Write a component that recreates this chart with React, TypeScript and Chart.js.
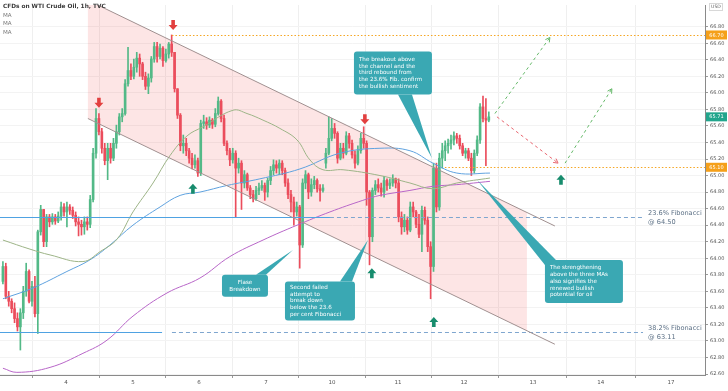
import React, { useEffect, useRef } from "react";
import { Chart, registerables } from "chart.js";
Chart.register(...registerables);

// ---------- DATA ----------
const dayLabels = ["4", "5", "6", "7", "10", "11", "12", "13", "14", "17"];
const dayTickBars = [21.7, 44.7, 67.4, 90.4, 113.1, 135.8, 158.5, 182.2, 205.5, 229.6];
const priceTicks = [62.6, 62.8, 63.0, 63.2, 63.4, 63.6, 63.8, 64.0, 64.2, 64.4, 64.6, 64.8, 65.0, 65.2, 65.4, 65.6, 65.8, 66.0, 66.2, 66.4, 66.6, 66.8];

const opens = [
  63.72, 63.90, 63.54, 63.48, 63.39, 63.27, 63.17, 63.34, 63.60, 63.84,
  63.48, 63.66, 63.33, 64.32, 64.59, 64.20, 64.50, 64.44, 64.50, 64.45,
  64.51, 64.62, 64.56, 64.62, 64.58, 64.52, 64.44, 64.41, 64.38, 64.44,
  64.41, 64.71, 65.27, 65.69, 65.53, 65.33, 65.18, 65.33, 65.21, 65.39,
  65.53, 65.71, 65.75, 66.11, 66.27, 66.20, 66.31, 66.42, 66.35, 66.20,
  66.08, 66.18, 66.41, 66.56, 66.44, 66.54, 66.39, 66.47, 66.59, 66.49,
  66.05, 65.73, 65.36, 65.39, 65.30, 65.21, 65.13, 65.18, 65.03, 65.63,
  65.65, 65.61, 65.67, 65.62, 65.75, 65.90, 65.69, 65.39, 65.30, 65.19,
  65.27, 65.09, 65.15, 64.91, 65.01, 64.85, 64.77, 64.72, 64.82, 64.85,
  64.88, 64.80, 64.94, 65.06, 65.13, 65.09, 65.15, 65.06, 64.91, 64.77,
  64.68, 64.56, 64.62, 64.16, 64.91, 65.01, 64.80, 64.89, 64.94, 64.84,
  64.82, 65.15, 65.27, 65.45, 65.57, 65.51, 65.21, 65.33, 65.27, 65.48,
  65.39, 65.25, 65.15, 65.30, 65.45, 65.39, 64.80, 64.26, 64.82, 64.89,
  64.85, 64.80, 64.94, 64.88, 64.91, 64.96, 64.91, 64.50, 64.38, 64.46,
  64.34, 64.62, 64.56, 64.41, 64.29, 64.58, 64.46, 64.14, 63.90, 65.09,
  64.62, 65.21, 65.30, 65.36, 65.39, 65.43, 65.48, 65.45, 65.36, 65.27,
  65.30, 65.21, 65.06, 65.27, 65.43, 65.83, 65.69, 65.67,
];
const highs = [
  63.96, 63.94, 63.60, 63.51, 63.46, 63.34, 63.39, 63.66, 63.94, 63.86,
  63.72, 63.78, 64.34, 64.64, 64.59, 64.53, 64.53, 64.54, 64.53, 64.56,
  64.68, 64.66, 64.68, 64.65, 64.62, 64.56, 64.50, 64.46, 64.50, 64.50,
  64.76, 65.33, 65.81, 65.75, 65.57, 65.39, 65.39, 65.39, 65.45, 65.61,
  65.75, 65.81, 66.16, 66.55, 66.35, 66.41, 66.49, 66.47, 66.37, 66.25,
  66.23, 66.44, 66.61, 66.61, 66.59, 66.56, 66.53, 66.61, 66.70, 66.49,
  66.05, 65.75, 65.49, 65.45, 65.33, 65.27, 65.25, 65.21, 65.67, 65.73,
  65.70, 65.71, 65.69, 65.81, 65.95, 65.92, 65.73, 65.42, 65.33, 65.33,
  65.30, 65.21, 65.18, 65.06, 65.03, 64.88, 64.82, 64.87, 64.91, 64.94,
  64.91, 64.97, 65.11, 65.19, 65.18, 65.19, 65.18, 65.09, 64.96, 64.82,
  64.74, 64.68, 64.64, 64.96, 65.06, 65.03, 64.96, 64.99, 64.96, 64.89,
  64.89, 65.33, 65.71, 65.69, 65.63, 65.53, 65.39, 65.39, 65.53, 65.51,
  65.43, 65.30, 65.36, 65.51, 65.59, 65.42, 64.82, 64.85, 64.94, 64.96,
  64.91, 64.99, 64.96, 64.96, 65.01, 64.97, 64.96, 64.56, 64.53, 64.50,
  64.68, 64.68, 64.58, 64.53, 64.63, 64.62, 64.50, 64.20, 65.15, 65.15,
  65.27, 65.39, 65.42, 65.44, 65.49, 65.53, 65.51, 65.49, 65.39, 65.33,
  65.33, 65.27, 65.31, 65.48, 65.87, 65.96, 65.93, 65.77,
];
const lows = [
  63.69, 63.51, 63.42, 63.34, 63.22, 63.12, 62.89, 63.27, 63.54, 63.46,
  63.42, 63.29, 63.09, 64.28, 64.14, 64.14, 64.38, 64.41, 64.41, 64.43,
  64.46, 64.51, 64.38, 64.53, 64.48, 64.39, 64.27, 64.28, 64.29, 64.34,
  64.37, 64.68, 65.21, 65.49, 65.27, 65.13, 64.95, 65.15, 65.18, 65.33,
  65.49, 65.65, 65.73, 66.08, 66.16, 66.17, 66.25, 66.20, 66.16, 66.04,
  65.99, 66.13, 66.37, 66.37, 66.41, 66.32, 66.37, 66.42, 66.44, 66.01,
  65.69, 65.30, 65.27, 65.24, 65.15, 65.08, 65.09, 64.99, 65.00, 65.57,
  65.56, 65.58, 65.57, 65.59, 65.73, 65.65, 65.36, 65.25, 65.12, 65.15,
  64.50, 65.03, 64.59, 64.85, 64.82, 64.72, 64.68, 64.70, 64.77, 64.82,
  64.70, 64.74, 64.89, 65.01, 65.03, 65.01, 65.01, 64.87, 64.72, 64.56,
  64.40, 64.51, 63.88, 64.13, 64.84, 64.72, 64.75, 64.84, 64.80, 64.69,
  64.80, 65.09, 65.25, 65.42, 65.45, 65.15, 65.19, 65.21, 65.25, 65.33,
  65.21, 65.09, 65.13, 65.27, 65.33, 64.64, 63.92, 64.20, 64.77, 64.80,
  64.75, 64.74, 64.82, 64.84, 64.87, 64.85, 64.44, 64.29, 64.32, 64.29,
  64.32, 64.50, 64.37, 64.25, 64.08, 64.41, 64.08, 63.51, 63.84, 64.56,
  64.58, 65.09, 65.18, 65.27, 65.32, 65.37, 65.39, 65.32, 65.24, 65.21,
  65.18, 65.00, 65.03, 65.24, 65.39, 65.65, 65.12, 65.65,
];
const closes = [
  63.90, 63.54, 63.48, 63.39, 63.27, 63.17, 63.34, 63.60, 63.84, 63.48,
  63.66, 63.33, 64.32, 64.59, 64.20, 64.50, 64.44, 64.50, 64.45, 64.51,
  64.62, 64.56, 64.62, 64.58, 64.52, 64.44, 64.41, 64.38, 64.44, 64.41,
  64.71, 65.27, 65.69, 65.53, 65.33, 65.18, 65.33, 65.21, 65.39, 65.53,
  65.71, 65.75, 66.11, 66.27, 66.20, 66.31, 66.42, 66.35, 66.20, 66.08,
  66.18, 66.41, 66.56, 66.44, 66.54, 66.39, 66.47, 66.59, 66.49, 66.05,
  65.73, 65.36, 65.39, 65.30, 65.21, 65.13, 65.18, 65.03, 65.63, 65.65,
  65.61, 65.67, 65.62, 65.75, 65.90, 65.69, 65.39, 65.30, 65.19, 65.27,
  65.09, 65.15, 64.91, 65.01, 64.85, 64.77, 64.72, 64.82, 64.85, 64.88,
  64.80, 64.94, 65.06, 65.13, 65.09, 65.15, 65.06, 64.91, 64.77, 64.68,
  64.56, 64.62, 64.16, 64.91, 65.01, 64.80, 64.89, 64.94, 64.84, 64.82,
  64.85, 65.27, 65.45, 65.57, 65.51, 65.21, 65.33, 65.27, 65.48, 65.39,
  65.25, 65.15, 65.30, 65.45, 65.39, 64.80, 64.26, 64.82, 64.89, 64.85,
  64.80, 64.94, 64.88, 64.91, 64.96, 64.91, 64.50, 64.38, 64.46, 64.34,
  64.62, 64.56, 64.41, 64.29, 64.58, 64.46, 64.14, 63.90, 65.09, 64.62,
  65.21, 65.30, 65.36, 65.39, 65.43, 65.48, 65.45, 65.36, 65.27, 65.30,
  65.21, 65.06, 65.27, 65.43, 65.83, 65.69, 65.67, 65.71,
];

// moving averages
const maGreenBars = [0, 9.3, 16.2, 27.5, 33.4, 39.2, 44.7, 51.6, 57.4, 63.3, 68.8, 79.1, 83.9, 89.4, 95.2, 101.1, 105.5, 110, 116.9, 129.6, 139.9, 147.8, 156, 167.4];
const maGreenVals = [64.22, 64.11, 64.04, 63.96, 64.08, 64.23, 64.56, 64.91, 65.24, 65.48, 65.59, 65.79, 65.75, 65.67, 65.57, 65.43, 65.19, 65.07, 65.07, 65.0, 64.91, 64.84, 64.91, 64.97];
const maBlueBars = [0, 10.3, 22, 29.9, 36.8, 44.7, 54, 60.9, 67.7, 77, 88.3, 102.1, 115.8, 129.6, 139.9, 147.8, 156, 167.4];
const maBlueVals = [63.51, 63.64, 63.84, 63.98, 64.16, 64.4, 64.62, 64.76, 64.8, 64.88, 64.96, 65.08, 65.27, 65.33, 65.3, 65.15, 65.03, 65.03];
const maPurpleBars = [0, 4.8, 16.2, 27.5, 35.8, 44.7, 56.4, 67.7, 78, 89.4, 101.1, 112.4, 123.7, 129.6, 139.9, 147.8, 156, 167.4];
const maPurpleVals = [62.67, 62.62, 62.68, 62.85, 63.01, 63.3, 63.58, 63.76, 64.02, 64.22, 64.4, 64.56, 64.7, 64.76, 64.82, 64.87, 64.89, 64.93];

const fibLevels = [64.5, 63.11];
const fibNames = ["23.6% Fibonacci", "38.2% Fibonacci"];
const fibValueText = ["@ 64.50", "@ 63.11"];
const fibSolidEnd = [112.4, 54.7];
const fibDashStart = [112.4, 58.1];
const fibDashEnd = 220;

const levelPrices = [66.7, 65.1];
const levelStartBars = [58.1, 151.9];
const lastPrice = 65.71;

const channelUpper = [[29.2, 67.12], [189.7, 64.39]];
const channelLower = [[29.2, 65.69], [189.7, 62.96]];
const channelFillEnd = 180.1;

const redArrows = [[33.0, 65.82], [58.5, 66.76], [124.4, 65.62]];
const greenArrows = [[65.3, 64.9], [126.8, 63.88], [148.1, 63.29], [191.8, 65.01]];

const projFrom = [[169.1, 65.75], [169.8, 65.71], [193.2, 65.15]];
const projTo = [[188.0, 66.67], [190.8, 65.15], [209.3, 66.05]];
const projKind = ["up", "down", "up"];

const calloutTexts = [
  ["The breakout above", "the channel and the", "third rebound from", "the 23.6% Fib. confirm", "the bullish sentiment"],
  ["The strengthening", "above the three MAs", "also signifies the", "renewed bullish", "potential for oil"],
  ["Flase", "Breakdown"],
  ["Second failed", "attempt to", "break down", "below the 23.6", "per cent Fibonacci"],
];
const calloutBox = [[120.65, 66.5], [186.29, 63.98], [75.29, 63.8], [96.94, 63.72]];
const calloutTip = [[147.45, 65.21], [162.92, 64.95], [99.69, 64.1], [125.46, 64.22]];

// ---------- STYLE ----------
const UP = "#53b987";
const DOWN = "#eb4d5c";
const TEAL = "#3aa8b3";
const FONT = '"DejaVu Sans", Verdana, sans-serif';
const calloutStyle = [
  { w: 78, h: 43, base: [[44, 43], [58, 43]], align: "left" },
  { w: 78, h: 43, base: [[0, 5], [11, 0]], align: "left" },
  { w: 46, h: 22, base: [[34, 0], [44, 0]], align: "center" },
  { w: 70, h: 39, base: [[55, 0], [67, 0]], align: "left" },
];

const overlay = {
  id: "overlay",
  beforeDatasetsDraw(chart: any) {
    const { ctx, chartArea: ca } = chart;
    const xs = chart.scales.x, ys = chart.scales.y;
    const X = (v: number) => xs.getPixelForValue(v);
    const Y = (v: number) => ys.getPixelForValue(v);
    const at = (l: number[][], b: number) => l[0][1] + ((l[1][1] - l[0][1]) * (b - l[0][0])) / (l[1][0] - l[0][0]);
    ctx.save();
    ctx.beginPath();
    ctx.rect(ca.left, ca.top, ca.right - ca.left, ca.bottom - ca.top);
    ctx.clip();
    ctx.beginPath();
    ctx.moveTo(X(channelUpper[0][0]), Y(channelUpper[0][1]));
    ctx.lineTo(X(channelFillEnd), Y(at(channelUpper, channelFillEnd)));
    ctx.lineTo(X(channelFillEnd), Y(at(channelLower, channelFillEnd)));
    ctx.lineTo(X(channelLower[0][0]), Y(channelLower[0][1]));
    ctx.closePath();
    ctx.fillStyle = "rgba(240,80,80,0.15)";
    ctx.fill();
    ctx.restore();
  },
  afterDatasetsDraw(chart: any) {
    const { ctx, chartArea: ca } = chart;
    const xs = chart.scales.x, ys = chart.scales.y;
    const X = (v: number) => xs.getPixelForValue(v);
    const Y = (v: number) => ys.getPixelForValue(v);
    ctx.save();
    ctx.beginPath();
    ctx.rect(ca.left, ca.top, ca.right - ca.left, ca.bottom - ca.top);
    ctx.clip();

    fibLevels.forEach((lv, i) => {
      const y = Math.round(Y(lv)) + 0.5;
      ctx.strokeStyle = "#4fa2e2";
      ctx.lineWidth = 1.2;
      ctx.setLineDash([]);
      ctx.beginPath();
      ctx.moveTo(ca.left, y);
      ctx.lineTo(X(fibSolidEnd[i]), y);
      ctx.stroke();
      ctx.strokeStyle = "#7fa6cf";
      ctx.lineWidth = 1;
      ctx.setLineDash([4, 3]);
      ctx.beginPath();
      ctx.moveTo(X(fibDashStart[i]), y);
      ctx.lineTo(X(fibDashEnd), y);
      ctx.stroke();
      ctx.setLineDash([]);
      ctx.fillStyle = "#5d7186";
      ctx.font = `6.6px ${FONT}`;
      ctx.textBaseline = "middle";
      ctx.textAlign = "left";
      ctx.fillText(fibNames[i], X(fibDashEnd) + 5, y - 4);
      ctx.fillText(fibValueText[i], X(fibDashEnd) + 5, y + 5);
    });

    levelPrices.forEach((lv, i) => {
      const y = Math.round(Y(lv)) + 0.5;
      ctx.strokeStyle = "#f5a623";
      ctx.lineWidth = 1;
      ctx.setLineDash([1.5, 2]);
      ctx.beginPath();
      ctx.moveTo(X(levelStartBars[i]), y);
      ctx.lineTo(ca.right, y);
      ctx.stroke();
    });
    ctx.setLineDash([]);

    ctx.strokeStyle = "#a09090";
    ctx.lineWidth = 1;
    [channelUpper, channelLower].forEach((l) => {
      ctx.beginPath();
      ctx.moveTo(X(l[0][0]), Y(l[0][1]));
      ctx.lineTo(X(l[1][0]), Y(l[1][1]));
      ctx.stroke();
    });

    const drawArrow = (bx: number, py: number, down: boolean, color: string) => {
      const cx = X(bx), tip = Y(py);
      const dir = down ? -1 : 1;
      ctx.fillStyle = color;
      ctx.beginPath();
      ctx.moveTo(cx, tip);
      ctx.lineTo(cx - 4.5, tip + dir * 5);
      ctx.lineTo(cx - 1.8, tip + dir * 5);
      ctx.lineTo(cx - 1.8, tip + dir * 10);
      ctx.lineTo(cx + 1.8, tip + dir * 10);
      ctx.lineTo(cx + 1.8, tip + dir * 5);
      ctx.lineTo(cx + 4.5, tip + dir * 5);
      ctx.closePath();
      ctx.fill();
    };
    redArrows.forEach((a) => drawArrow(a[0], a[1], true, "#e2403f"));
    greenArrows.forEach((a) => drawArrow(a[0], a[1], false, "#178c6d"));

    projFrom.forEach((f, i) => {
      const t = projTo[i];
      const x1 = X(f[0]), y1 = Y(f[1]), x2 = X(t[0]), y2 = Y(t[1]);
      ctx.strokeStyle = projKind[i] === "up" ? "#66b96a" : "#e8666f";
      ctx.lineWidth = 1;
      ctx.setLineDash([3, 3]);
      ctx.beginPath();
      ctx.moveTo(x1, y1);
      ctx.lineTo(x2, y2);
      ctx.stroke();
      ctx.setLineDash([]);
      const ang = Math.atan2(y2 - y1, x2 - x1);
      ctx.beginPath();
      [0.5, -0.5].forEach((d) => {
        ctx.moveTo(x2, y2);
        ctx.lineTo(x2 - 5 * Math.cos(ang + d), y2 - 5 * Math.sin(ang + d));
      });
      ctx.stroke();
    });

    calloutTexts.forEach((lines, i) => {
      const st = calloutStyle[i];
      const bx = X(calloutBox[i][0]), by = Y(calloutBox[i][1]);
      const tx = X(calloutTip[i][0]), ty = Y(calloutTip[i][1]);
      ctx.fillStyle = TEAL;
      ctx.beginPath();
      ctx.moveTo(bx + st.base[0][0], by + st.base[0][1]);
      ctx.lineTo(tx, ty);
      ctx.lineTo(bx + st.base[1][0], by + st.base[1][1]);
      ctx.closePath();
      ctx.fill();
      ctx.beginPath();
      ctx.roundRect(bx, by, st.w, st.h, 3);
      ctx.fill();
      ctx.fillStyle = "#ffffff";
      ctx.font = `5.6px ${FONT}`;
      ctx.textBaseline = "middle";
      const lh = 6.7;
      const total = lh * lines.length;
      const y0 = by + (st.h - total) / 2 + lh / 2;
      lines.forEach((s, k) => {
        if (st.align === "center") {
          ctx.textAlign = "center";
          ctx.fillText(s, bx + st.w / 2, y0 + k * lh);
        } else {
          ctx.textAlign = "left";
          ctx.fillText(s, bx + 5, y0 + k * lh);
        }
      });
    });
    ctx.restore();

    ctx.save();
    ctx.textAlign = "left";
    ctx.textBaseline = "middle";
    ctx.fillStyle = "#3a3a3a";
    ctx.font = `bold 5.8px ${FONT}`;
    ctx.fillText("CFDs on WTI Crude Oil, 1h, TVC", ca.left + 3, 6.5);
    ctx.fillStyle = "#7a7a7a";
    ctx.font = `5.6px ${FONT}`;
    ["MA", "MA", "MA"].forEach((s, k) => ctx.fillText(s, ca.left + 3, 15.5 + k * 8.3));
    ctx.restore();
  },
  afterDraw(chart: any) {
    const { ctx, chartArea: ca } = chart;
    const ys = chart.scales.y;
    const Y = (v: number) => ys.getPixelForValue(v);
    ctx.save();
    const tag = (v: number, color: string) => {
      const y = Y(v);
      ctx.fillStyle = color;
      ctx.fillRect(ca.right + 1, y - 4.5, 21, 9);
      ctx.fillStyle = "#ffffff";
      ctx.font = `5px ${FONT}`;
      ctx.textAlign = "center";
      ctx.textBaseline = "middle";
      ctx.fillText(v.toFixed(2), ca.right + 11.5, y + 0.3);
    };
    tag(levelPrices[0], "#f5a01a");
    tag(lastPrice, "#22a58c");
    tag(levelPrices[1], "#f5a01a");
    ctx.strokeStyle = "#d8d8d8";
    ctx.lineWidth = 1;
    ctx.strokeRect(ca.right + 4.5, 3.5, 13, 7);
    ctx.fillStyle = "#666";
    ctx.font = `4.6px ${FONT}`;
    ctx.textAlign = "center";
    ctx.textBaseline = "middle";
    ctx.fillText("USD", ca.right + 11, 7.2);
    ctx.restore();
  },
};

export default function App() {
  const ref = useRef<HTMLCanvasElement>(null);
  useEffect(() => {
    const canvas = ref.current;
    if (!canvas) return;
    const idx = closes.map((_, i) => i);
    const colors = idx.map((i) => (closes[i] >= opens[i] ? UP : DOWN));
    const maLine = (bars: number[], vals: number[], color: string) => ({
      type: "line" as const,
      data: bars.map((b, i) => ({ x: b, y: vals[i] })),
      borderColor: color,
      borderWidth: 1,
      pointRadius: 0,
      tension: 0.4,
      fill: false,
      order: 0,
    });
    const chart = new Chart(canvas, {
      type: "bar",
      data: {
        datasets: [
          maLine(maGreenBars, maGreenVals, "#9db487"),
          maLine(maBlueBars, maBlueVals, "#5fa2df"),
          maLine(maPurpleBars, maPurpleVals, "#b866c8"),
          {
            type: "bar",
            data: idx.map((i) => ({ x: i, y: [opens[i], closes[i]] })),
            backgroundColor: colors,
            barThickness: 2,
            minBarLength: 1,
            grouped: false,
            order: 1,
          } as any,
          {
            type: "bar",
            data: idx.map((i) => ({ x: i, y: [lows[i], highs[i]] })),
            backgroundColor: colors,
            barThickness: 1,
            grouped: false,
            order: 2,
          } as any,
        ],
      },
      options: {
        responsive: false,
        animation: false,
        events: [],
        layout: { padding: 0 },
        plugins: { legend: { display: false }, tooltip: { enabled: false } },
        scales: {
          x: {
            type: "linear",
            min: -1,
            max: 241.3,
            offset: false,
            grid: { color: "#efefef", tickLength: 3, tickColor: "#9a9a9a" },
            border: { color: "#8a8a8a" },
            ticks: {
              font: { size: 5.5, family: FONT },
              color: "#555",
              padding: 1,
              maxRotation: 0,
              autoSkip: false,
              callback: (_v: any, i: number) => dayLabels[i],
            },
            afterBuildTicks: (axis: any) => {
              axis.ticks = dayTickBars.map((v) => ({ value: v }));
            },
            afterFit: (axis: any) => {
              axis.height = 16;
            },
          },
          y: {
            type: "linear",
            position: "right",
            min: 62.588,
            max: 67.0625,
            grid: { color: "#f3f3f3", tickLength: 3, tickColor: "#9a9a9a" },
            border: { color: "#8a8a8a" },
            ticks: {
              font: { size: 5, family: FONT },
              color: "#555",
              padding: 2,
              callback: (v: any) => Number(v).toFixed(2),
            },
            afterBuildTicks: (axis: any) => {
              axis.ticks = priceTicks.map((v) => ({ value: v }));
            },
            afterFit: (axis: any) => {
              axis.width = 23;
            },
          },
        },
      } as any,
      plugins: [overlay],
    });
    return () => chart.destroy();
  }, []);
  return (
    <div style={{ position: "fixed", left: 0, top: 0, width: 728, height: 391, background: "#fff" }}>
      <canvas ref={ref} width={728} height={391} style={{ display: "block" }} />
    </div>
  );
}
